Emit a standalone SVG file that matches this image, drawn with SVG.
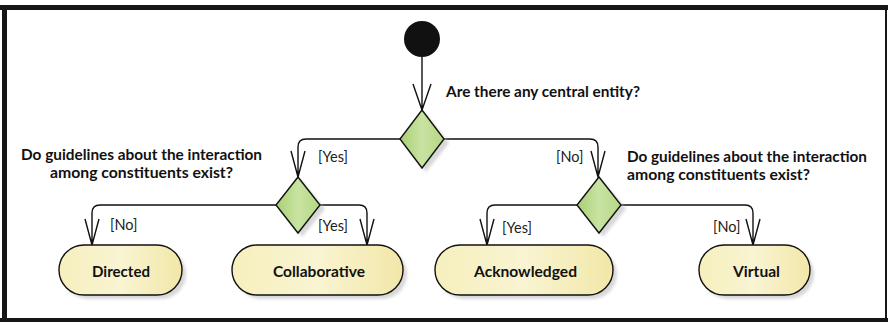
<svg xmlns="http://www.w3.org/2000/svg" width="888" height="322" viewBox="0 0 888 322">
<style>
.frame{stroke:#161616;fill:none}
.conn{fill:none;stroke:#111;stroke-width:1.4;stroke-linejoin:round}
.dia{fill:url(#gDia);stroke:#111;stroke-width:1.4}
.act{fill:url(#gAct);stroke:#111;stroke-width:1.4}
.shadow{fill:#b8b8b8;opacity:0.55;filter:url(#blur)}
.q{font-family:Lato,"Open Sans","Liberation Sans",sans-serif;font-weight:bold;font-size:15px;fill:#111}
.lbl{font-family:Lato,"Open Sans","Liberation Sans",sans-serif;font-size:14.5px;fill:#222}
.nt{font-family:Lato,"Open Sans","Liberation Sans",sans-serif;font-weight:bold;font-size:15px;fill:#111;text-anchor:middle}
</style>
<defs>
<linearGradient id="gDia" x1="0" y1="0" x2="1" y2="0">
<stop offset="0" stop-color="#a8cf74"/>
<stop offset="0.5" stop-color="#c9e3a2"/>
<stop offset="1" stop-color="#b4d783"/>
</linearGradient>
<linearGradient id="gAct" x1="0" y1="0" x2="1" y2="0">
<stop offset="0" stop-color="#f6efbd"/>
<stop offset="0.5" stop-color="#f9f4d2"/>
<stop offset="1" stop-color="#f2e7a8"/>
</linearGradient>
<filter id="blur" x="-20%" y="-20%" width="140%" height="140%"><feGaussianBlur stdDeviation="1.5"/></filter>
</defs>
<rect x="0" y="0" width="888" height="322" fill="#fff"/>
<g id="frame">
<line class="frame" x1="0" y1="7.5" x2="888" y2="7.5" stroke-width="5"/>
<line class="frame" x1="4.5" y1="5" x2="4.5" y2="322" stroke-width="5"/>
<line class="frame" x1="0" y1="320" x2="888" y2="320" stroke-width="4"/>
<line class="frame" x1="886" y1="5" x2="886" y2="322" stroke-width="2"/>
</g>
<g id="connectors">
<path class="conn" d="M422,57 V110 M413,84 L422,110 L431,84"/>
<path class="conn" d="M401,139 H306 Q298,139 298,147 V177 M291,151 L298,177 L305,151"/>
<path class="conn" d="M444,139 H590 Q598,139 598,147 V177 M591,151 L598,177 L605,151"/>
<path class="conn" d="M276,205 H100 Q92,205 92,213 V245 M85,219 L92,245 L99,219"/>
<path class="conn" d="M320,205 H359 Q367,205 367,213 V245 M360,219 L367,245 L374,219"/>
<path class="conn" d="M577,205 H495 Q487,205 487,213 V245 M480,219 L487,245 L494,219"/>
<path class="conn" d="M621,205 H745 Q753,205 753,213 V245 M746,219 L753,245 L760,219"/>
</g>
<g id="start">
<circle cx="422" cy="39" r="18" fill="#111"/>
</g>
<g id="decision1">
<path class="shadow" d="M426,114 L449,143 L426,172 L403,143 Z"/>
<path class="dia" d="M422,110 L444,139 L422,168 L400,139 Z"/>
<text class="q" x="446" y="97" textLength="194" lengthAdjust="spacingAndGlyphs">Are there any central entity?</text>
</g>
<g id="decision2">
<path class="shadow" d="M302,181 L325,209 L302,237 L279,209 Z"/>
<path class="dia" d="M298,177 L320,205 L298,233 L276,205 Z"/>
<text class="q" x="21" y="160" textLength="241" lengthAdjust="spacingAndGlyphs">Do guidelines about the interaction</text>
<text class="q" x="50" y="178" textLength="183" lengthAdjust="spacingAndGlyphs">among constituents exist?</text>
</g>
<g id="decision3">
<path class="shadow" d="M603,181 L626,209 L603,237 L580,209 Z"/>
<path class="dia" d="M599,177 L621,205 L599,233 L577,205 Z"/>
<text class="q" x="627" y="162" textLength="240" lengthAdjust="spacingAndGlyphs">Do guidelines about the interaction</text>
<text class="q" x="627" y="180" textLength="183" lengthAdjust="spacingAndGlyphs">among constituents exist?</text>
</g>
<g id="labels">
<text class="lbl" x="318" y="162">[Yes]</text>
<text class="lbl" x="556" y="162">[No]</text>
<text class="lbl" x="110" y="230">[No]</text>
<text class="lbl" x="318" y="231">[Yes]</text>
<text class="lbl" x="502" y="233">[Yes]</text>
<text class="lbl" x="713" y="232">[No]</text>
</g>
<g id="directed">
<rect class="shadow" x="63" y="249" width="123" height="50" rx="25"/>
<rect class="act" x="59" y="245" width="123" height="50" rx="25"/>
<text class="nt" x="121" y="277" textLength="58" lengthAdjust="spacingAndGlyphs">Directed</text>
</g>
<g id="collaborative">
<rect class="shadow" x="236" y="249" width="171" height="50" rx="25"/>
<rect class="act" x="232" y="245" width="171" height="50" rx="25"/>
<text class="nt" x="319" y="277" textLength="92" lengthAdjust="spacingAndGlyphs">Collaborative</text>
</g>
<g id="acknowledged">
<rect class="shadow" x="439" y="249" width="178" height="50" rx="25"/>
<rect class="act" x="435" y="245" width="178" height="50" rx="25"/>
<text class="nt" x="525.5" y="277" textLength="103" lengthAdjust="spacingAndGlyphs">Acknowledged</text>
</g>
<g id="virtual">
<rect class="shadow" x="703" y="249" width="111" height="50" rx="25"/>
<rect class="act" x="699" y="245" width="111" height="50" rx="25"/>
<text class="nt" x="756.5" y="277" textLength="47" lengthAdjust="spacingAndGlyphs">Virtual</text>
</g>
</svg>
